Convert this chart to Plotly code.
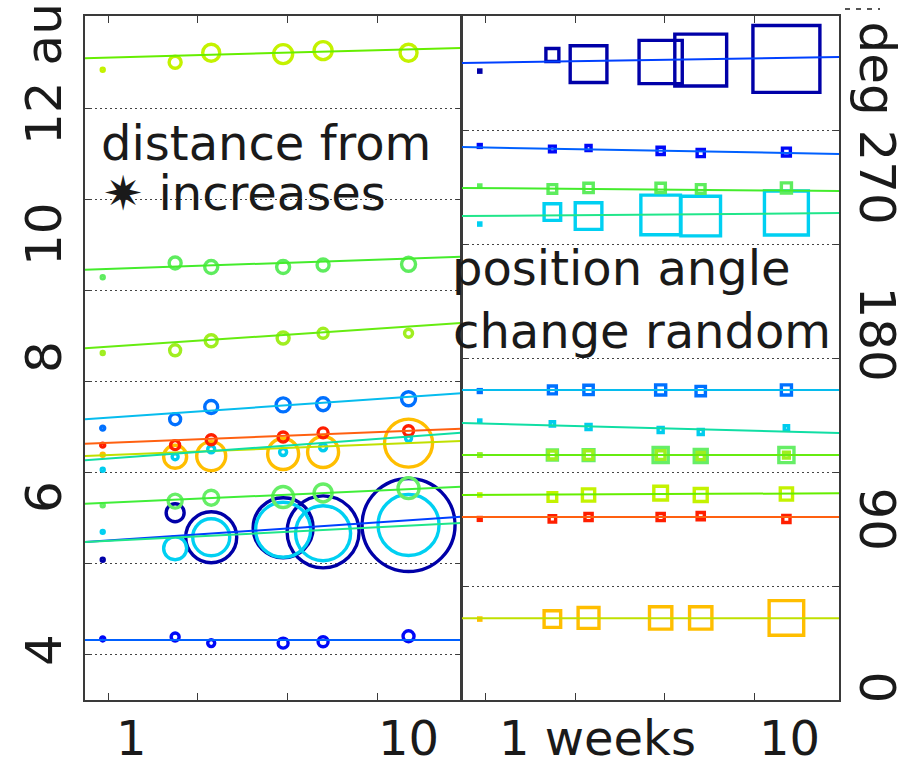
import plotly.graph_objects as go

# ---- observation epochs (weeks, log axis) ----
weeks = [0.96, 1.68, 2.22, 3.87, 5.27, 10.2]
week_span = [0.837, 15.3]

# ---- distance (au) per body ----
dist_a = [12.56, 12.67, 12.81, 12.79, 12.84, 12.81]
dist_b = [9.52, 9.73, 9.67, 9.67, 9.70, 9.71]
dist_c = [8.41, 8.45, 8.59, 8.63, 8.70, 8.70]
dist_d = [7.31, 7.44, 7.62, 7.65, 7.66, 7.74]
dist_e = [7.06, 7.06, 7.14, 7.18, 7.24, 7.27]
dist_f = [6.92, 6.89, 6.90, 6.93, 6.96, 7.09]
dist_g = [6.70, 6.89, 7.00, 6.96, 7.03, 7.16]
dist_h = [6.18, 6.24, 6.29, 6.30, 6.36, 6.43]
dist_i = [5.38, 6.07, 5.71, 5.85, 5.79, 5.89]
dist_j = [5.79, 5.55, 5.71, 5.82, 5.77, 5.89]
dist_k = [4.22, 4.25, 4.16, 4.16, 4.18, 4.26]

# distance trend (value at start / end of the week span)
dist_trend_a = [12.73, 12.88]
dist_trend_b = [9.63, 9.82]
dist_trend_c = [8.48, 8.85]
dist_trend_d = [7.44, 7.82]
dist_trend_e = [7.08, 7.30]
dist_trend_f = [6.90, 7.12]
dist_trend_g = [6.84, 7.24]
dist_trend_h = [6.20, 6.45]
dist_trend_i = [5.64, 6.01]
dist_trend_j = [5.64, 5.92]
dist_trend_k = [4.205, 4.205]

# ---- position angle (deg) per body ----
pa_a = [107.9, 106.8, 107.9, 108.9, 107.9, 108.4]
pa_b = [270.5, 269.0, 269.5, 269.5, 269.0, 269.5]
pa_c = [128.9, 128.9, 128.9, 128.9, 128.4, 128.9]
pa_d = [162.6, 163.2, 163.2, 163.2, 162.6, 163.2]
pa_e = [95.3, 95.3, 96.3, 96.3, 96.8, 95.3]
pa_f = [42.6, 42.6, 43.2, 43.2, 43.2, 43.2]
pa_g = [146.8, 145.3, 143.7, 142.1, 141.1, 143.2]
pa_h = [128.9, 128.9, 128.9, 128.9, 128.4, 128.9]
pa_i = [331.0, 339.5, 334.7, 335.8, 336.8, 337.4]
pa_j = [250.5, 256.8, 254.7, 255.3, 254.7, 256.3]
pa_k = [291.6, 290.0, 290.5, 289.0, 287.9, 288.4]

pa_trend_a = [107.9, 108.8]
pa_trend_b = [269.5, 267.9]
pa_trend_c = [128.9, 128.9]
pa_trend_d = [163.2, 163.2]
pa_trend_e = [96.3, 96.3]
pa_trend_f = [43.0, 43.0]
pa_trend_g = [145.8, 140.5]
pa_trend_h = [128.9, 128.9]
pa_trend_i = [335.3, 338.4]
pa_trend_j = [254.7, 256.3]
pa_trend_k = [291.0, 287.4]

# ---- apparent size of each body at each epoch ----
mag_a = [3, 12, 17, 19, 18, 17]
mag_b = [3, 12, 13, 13, 12, 14]
mag_c = [3, 11, 12, 12, 10, 8]
mag_d = [4, 11, 13, 14, 13, 14]
mag_e = [4, 9, 10, 10, 10, 10]
mag_f = [3, 23, 29, 31, 31, 48]
mag_g = [3, 6, 7, 7, 7, 6]
mag_h = [3, 14, 15, 21, 18, 21]
mag_i = [3, 18, 51, 60, 72, 93]
mag_j = [3, 23, 37, 55, 55, 61]
mag_k = [4, 8, 7, 10, 10, 11]

# ---- axis text ----
dist_tick_text = ["4", "6", "8", "10", "12 au"]
angle_tick_text = ["0", "90", "180", "270", "deg"]
week_tick_text_left = ["1", "10"]
week_tick_text_right = ["1 weeks", "10"]
note_left = ["distance from", "\u2737 increases"]
note_right = ["position angle", "change random"]

# marker colour / trend colour per body (jet-like palette)
bodies = [
    # dist, dist_trend, pa, pa_trend, mag, marker colour, line colour
    (dist_i, dist_trend_i, pa_i, pa_trend_i, mag_i, "#0000a8", "#0040ff"),
    (dist_j, dist_trend_j, pa_j, pa_trend_j, mag_j, "#00d0f2", "#20e68a"),
    (dist_f, dist_trend_f, pa_f, pa_trend_f, mag_f, "#ffbe00", "#c0e000"),
    (dist_h, dist_trend_h, pa_h, pa_trend_h, mag_h, "#66ee66", "#40ee38"),
    (dist_k, dist_trend_k, pa_k, pa_trend_k, mag_k, "#0008f8", "#0060ff"),
    (dist_g, dist_trend_g, pa_g, pa_trend_g, mag_g, "#00ccee", "#10dea4"),
    (dist_e, dist_trend_e, pa_e, pa_trend_e, mag_e, "#ff1e00", "#ff6010"),
    (dist_d, dist_trend_d, pa_d, pa_trend_d, mag_d, "#0070ff", "#06bcee"),
    (dist_c, dist_trend_c, pa_c, pa_trend_c, mag_c, "#a0ee20", "#66ec10"),
    (dist_b, dist_trend_b, pa_b, pa_trend_b, mag_b, "#5eec5e", "#44ec2c"),
    (dist_a, dist_trend_a, pa_a, pa_trend_a, mag_a, "#c4f200", "#66ee00"),
]

W, H = 906, 766
FONT = "DejaVu Sans"
SQUARE_SCALE = 0.72
STROKE = 3.4


def px(x):
    return x / W


def py(y):
    return 1 - y / H


fig = go.Figure()

# markers: circles for distance, squares for position angle
for d, dt, pa, pat, mag, mc, lc in bodies:
    fig.add_trace(go.Scatter(
        x=weeks, y=d, mode="markers", xaxis="x", yaxis="y",
        marker=dict(symbol="circle-open", size=mag, color=mc, opacity=1,
                    line=dict(width=STROKE, color=mc)),
        showlegend=False, hoverinfo="skip"))
    fig.add_trace(go.Scatter(
        x=weeks, y=pa, mode="markers", xaxis="x2", yaxis="y2",
        marker=dict(symbol="square-open", size=[m * SQUARE_SCALE for m in mag],
                    color=mc, opacity=1, line=dict(width=STROKE, color=mc)),
        showlegend=False, hoverinfo="skip"))

# trend lines across the full week span
for d, dt, pa, pat, mag, mc, lc in bodies:
    fig.add_trace(go.Scatter(
        x=week_span, y=dt, mode="lines", xaxis="x", yaxis="y",
        line=dict(color=lc, width=2), showlegend=False, hoverinfo="skip"))
    fig.add_trace(go.Scatter(
        x=week_span, y=pat, mode="lines", xaxis="x2", yaxis="y2",
        line=dict(color=lc, width=2), showlegend=False, hoverinfo="skip"))

axis_common = dict(
    showline=True, linecolor="#3a3a3a", linewidth=1.5, mirror="ticks",
    ticks="inside", tickcolor="#3a3a3a", tickwidth=1.3,
    showticklabels=False, zeroline=False,
)
grid = dict(showgrid=True, gridcolor="#444444", gridwidth=1.4, griddash="2px,3px")

y_dom = [py(700), py(16)]
fig.update_layout(
    width=W, height=H, margin=dict(l=0, r=0, t=0, b=0),
    paper_bgcolor="white", plot_bgcolor="white",
    xaxis=dict(type="log", range=[-0.0772, 1.1846], domain=[px(85), px(461)],
               tickvals=[1, 2, 4, 8], ticklen=7, showgrid=False, **axis_common),
    xaxis2=dict(type="log", range=[-0.0772, 1.1846], domain=[px(462), px(839)],
                tickvals=[1, 2, 4, 8], ticklen=7, showgrid=False, anchor="y2",
                **axis_common),
    yaxis=dict(range=[3.326, 13.348], domain=y_dom,
               tickvals=[4, 16 / 3, 20 / 3, 8, 28 / 3, 32 / 3, 12], ticklen=5,
               **grid, **axis_common),
    yaxis2=dict(range=[0, 360], domain=y_dom, anchor="x2",
                tickvals=[0, 60, 120, 180, 240, 300, 360], ticklen=5,
                **grid, **axis_common),
)

ann = []
tick_font = dict(family=FONT, size=50, color="#1a1a1a")
low_font = dict(family=FONT, size=48, color="#1a1a1a")
note_font = dict(family=FONT, size=48, color="#1a1a1a")

# rotated distance labels on the left
for txt, yc in zip(dist_tick_text, [650, 497, 357, 234, 74]):
    ann.append(dict(text=txt, x=px(44), y=py(yc), xref="paper", yref="paper",
                    textangle=-90, xanchor="center", yanchor="middle",
                    showarrow=False, font=tick_font))
# rotated angle labels on the right
for txt, yc in zip(angle_tick_text, [687, 519, 334, 177, 68]):
    ann.append(dict(text=txt, x=px(876.5), y=py(yc), xref="paper", yref="paper",
                    textangle=90, xanchor="center", yanchor="middle",
                    showarrow=False, font=tick_font))
# week labels under each panel
week_y = py(738)
ann.append(dict(text=week_tick_text_left[0], x=px(131), y=week_y, xref="paper", yref="paper",
                xanchor="center", yanchor="middle", showarrow=False, font=low_font))
ann.append(dict(text=week_tick_text_left[1], x=px(408), y=week_y, xref="paper", yref="paper",
                xanchor="center", yanchor="middle", showarrow=False, font=low_font))
ann.append(dict(text=week_tick_text_right[0], x=px(497), y=week_y, xref="paper", yref="paper",
                xanchor="left", yanchor="middle", showarrow=False, font=low_font))
ann.append(dict(text=week_tick_text_right[1], x=px(789), y=week_y, xref="paper", yref="paper",
                xanchor="center", yanchor="middle", showarrow=False, font=low_font))

# panel notes
for txt, xl, yc in [(note_left[0], 99, 143), (note_left[1], 101, 193),
                    (note_right[0], 450, 268), (note_right[1], 451, 331)]:
    ann.append(dict(text=txt, x=px(xl), y=py(yc), xref="paper", yref="paper",
                    xanchor="left", yanchor="middle", showarrow=False, font=note_font))

fig.update_layout(annotations=ann)

# short dashed stub at the top-right corner
fig.add_shape(type="line", xref="paper", yref="paper",
              x0=px(845), x1=px(880), y0=py(9), y1=py(9),
              line=dict(color="#555555", width=2, dash="5px,6px"))

fig.write_html("out.html")
